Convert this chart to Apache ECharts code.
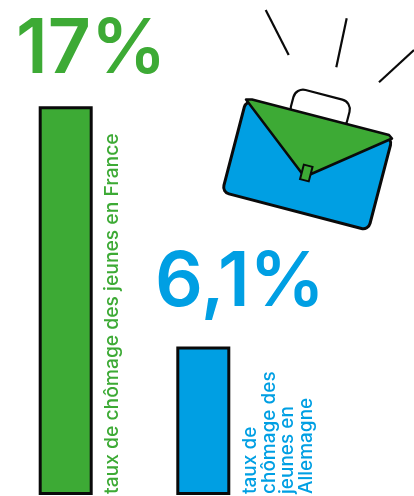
<!DOCTYPE html>
<html>
<head>
<meta charset="utf-8">
<style>html,body{margin:0;padding:0;background:#fff}#c{width:414px;height:496px}</style>
<script src="https://cdn.jsdelivr.net/npm/echarts@6/dist/echarts.min.js"></script>
</head>
<body>
<div id="c"></div>
<script>
// Youth unemployment rates, France vs Germany
const categories = ['France', 'Allemagne'];
const rates = [17, 6.1];
const rateLabels = ['17%', '6,1%'];
const captions = ['taux de chômage des jeunes en France', 'taux de\nchômage des\njeunes en\nAllemagne'];

const GREEN = '#3DAA35';
const BLUE = '#009FE3';
const INK = '#0a0a0a';
const FONT = 'Inter, "Open Sans", sans-serif';
const colors = [GREEN, BLUE];
const deg = Math.PI / 180;

const chart = echarts.init(document.getElementById('c'), null, {renderer: 'canvas'});

const line = (x1, y1, x2, y2) => ({
  type: 'line', silent: true,
  shape: {x1, y1, x2, y2},
  style: {stroke: INK, lineWidth: 2.2}
});

chart.setOption({
  animation: false,
  backgroundColor: '#fff',
  grid: {left: 65.7, width: 137.6, top: 107.7, height: 385.8, containLabel: false},
  xAxis: {type: 'category', data: categories, boundaryGap: false, show: false},
  yAxis: {type: 'value', min: -0.5, max: 17, show: false},
  series: [{
    type: 'custom',
    clip: false,
    data: rates.map((v, i) => [i, v]),
    renderItem(params, api) {
      const i = api.value(0);
      const top = api.coord([i, api.value(1)]);
      const base = api.coord([i, -0.5]);
      const w = 51;
      return {
        type: 'rect',
        shape: {x: top[0] - w / 2, y: top[1], width: w, height: base[1] - top[1]},
        style: {fill: colors[i], stroke: INK, lineWidth: 3}
      };
    }
  }],
  graphic: [
    // headline figures
    {type: 'text', x: 16, y: 50, style: {text: rateLabels[0], fill: GREEN, font: '600 75px ' + FONT, textAlign: 'left', textVerticalAlign: 'middle'}},
    {type: 'text', x: 155, y: 283, style: {text: rateLabels[1], fill: BLUE, font: '600 75px ' + FONT, textAlign: 'left', textVerticalAlign: 'middle'}},
    // vertical captions beside the bars
    {type: 'text', x: 112, y: 494, rotation: 90 * deg, style: {text: captions[0], fill: GREEN, font: '500 19.3px ' + FONT, textAlign: 'left', textVerticalAlign: 'middle'}},
    {type: 'text', x: 278.5, y: 494, rotation: 90 * deg, style: {text: captions[1], fill: BLUE, font: '500 19px ' + FONT, lineHeight: 18.5, textAlign: 'left', textVerticalAlign: 'middle'}},
    // rays above the briefcase
    line(265.7, 10, 288.7, 55),
    line(346.7, 18.3, 336.3, 67.3),
    line(414, 50, 379, 82.3),
    // briefcase: handle, body, flap, clasp
    {type: 'rect', x: 320.2, y: 109.3, rotation: -14.6 * deg,
      shape: {x: -29, y: -15, width: 58, height: 30, r: 10},
      style: {fill: '#fff', stroke: INK, lineWidth: 2.2}},
    {type: 'rect', x: 307.2, y: 165.2, rotation: -14.6 * deg,
      shape: {x: -75.5, y: -47.5, width: 151, height: 95, r: 7},
      style: {fill: BLUE, stroke: INK, lineWidth: 3}},
    {type: 'polygon',
      shape: {points: [[246, 99.5], [252, 99.5], [389, 135], [392, 138.5], [310, 174.5], [302, 173.5]]},
      style: {fill: GREEN, stroke: INK, lineWidth: 2.5, lineJoin: 'round'}},
    {type: 'rect', x: 306.3, y: 173, rotation: -14.6 * deg,
      shape: {x: -4.5, y: -7.5, width: 9, height: 15},
      style: {fill: GREEN, stroke: INK, lineWidth: 2}}
  ]
});
</script>
</body>
</html>
